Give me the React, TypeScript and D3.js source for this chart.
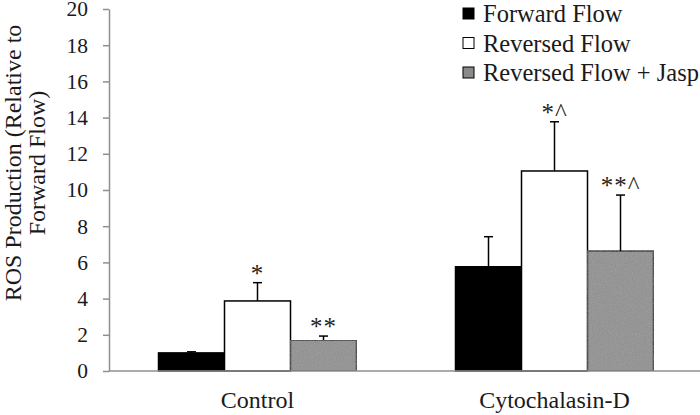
import * as d3 from 'd3';
import { useEffect, useRef } from 'react';

// data
const categories = ['Control', 'Cytochalasin-D'];
const seriesNames = ['Forward Flow', 'Reversed Flow', 'Reversed Flow + Jasp'];
const forwardFlow = [1.0, 5.76];
const forwardErr = [0.06, 1.66];
const reversedFlow = [3.87, 11.05];
const reversedErr = [1.01, 2.72];
const jaspFlow = [1.71, 6.63];
const jaspErr = [0.22, 3.09];
const forwardMarks = ['', ''];
const reversedMarks = ['*', '*^'];
const jaspMarks = ['**', '**^'];
const yTicks = [0, 2, 4, 6, 8, 10, 12, 14, 16, 18, 20];

const W = 700;
const H = 415;
const FONT = '"Liberation Serif", "Times New Roman", serif';
const TEXT = '#1a1a1a';
const AXIS = '#8f8f8f';
const fills = ['#000000', '#ffffff', '#8a8a8a'];

export default function App() {
  const svgRef = useRef<SVGSVGElement>(null);

  useEffect(() => {
    if (!svgRef.current) return;
    const svg = d3.select(svgRef.current);
    svg.selectAll('*').remove();

    const left = 109;
    const right = 703;
    const top = 9;
    const bottom = 371;

    const y = d3.scaleLinear().domain([0, 20]).range([bottom, top]);
    const x0 = d3.scaleBand<string>().domain(categories).range([left, right])
      .paddingInner(1 / 3).paddingOuter(1 / 6);
    const x1 = d3.scaleBand<string>().domain(seriesNames).range([0, x0.bandwidth()]);

    const values = [forwardFlow, reversedFlow, jaspFlow];
    const errs = [forwardErr, reversedErr, jaspErr];
    const marks = [forwardMarks, reversedMarks, jaspMarks];

    type Bar = { cat: string; ci: number; si: number; v: number; e: number; m: string };
    const bars: Bar[] = [];
    categories.forEach((cat, ci) => {
      seriesNames.forEach((_, si) => {
        bars.push({ cat, ci, si, v: values[si][ci], e: errs[si][ci], m: marks[si][ci] });
      });
    });

    // subtle grain for the grey bars
    const defs = svg.append('defs');
    const filt = defs.append('filter').attr('id', 'grain').attr('x', 0).attr('y', 0).attr('width', 1).attr('height', 1);
    filt.append('feTurbulence').attr('type', 'fractalNoise').attr('baseFrequency', 0.9).attr('numOctaves', 2).attr('result', 'n');
    filt.append('feColorMatrix').attr('in', 'n').attr('type', 'matrix')
      .attr('values', '0 0 0 0 0.54  0 0 0 0 0.54  0 0 0 0 0.54  0 0 0 0.35 0').attr('result', 'c');
    filt.append('feComposite').attr('in', 'c').attr('in2', 'SourceGraphic').attr('operator', 'in').attr('result', 'g');
    const mg = filt.append('feMerge');
    mg.append('feMergeNode').attr('in', 'SourceGraphic');
    mg.append('feMergeNode').attr('in', 'g');

    // y axis
    const yAxis = svg.append('g').attr('transform', `translate(${left},0)`)
      .call(d3.axisLeft(y).tickValues(yTicks).tickSize(6).tickPadding(15).tickSizeOuter(0));
    yAxis.select('.domain').attr('stroke', AXIS).attr('stroke-width', 1.5);
    yAxis.selectAll('.tick line').attr('stroke', AXIS).attr('stroke-width', 1.5);
    yAxis.selectAll('.tick text').attr('fill', TEXT).style('font-family', FONT).style('font-size', '21.5px');

    // bars
    const g = svg.append('g');
    g.selectAll('rect.bar').data(bars).join('rect')
      .attr('class', 'bar')
      .attr('x', d => x0(d.cat)! + x1(seriesNames[d.si])!)
      .attr('y', d => y(d.v))
      .attr('width', x1.bandwidth())
      .attr('height', d => y(0) - y(d.v))
      .attr('fill', d => fills[d.si])
      .attr('filter', d => (d.si === 2 ? 'url(#grain)' : null))
      .attr('stroke', '#000')
      .attr('stroke-width', 1.5);

    // error bars (upper only)
    const cx = (d: Bar) => x0(d.cat)! + x1(seriesNames[d.si])! + x1.bandwidth() / 2;
    g.selectAll('line.err').data(bars).join('line')
      .attr('class', 'err')
      .attr('x1', cx).attr('x2', cx)
      .attr('y1', d => y(d.v)).attr('y2', d => y(d.v + d.e))
      .attr('stroke', '#000').attr('stroke-width', 1.5);
    g.selectAll('line.cap').data(bars).join('line')
      .attr('class', 'cap')
      .attr('x1', d => cx(d) - 4.5).attr('x2', d => cx(d) + 4.5)
      .attr('y1', d => y(d.v + d.e)).attr('y2', d => y(d.v + d.e))
      .attr('stroke', '#000').attr('stroke-width', 1.5);

    // significance marks
    g.selectAll('text.mark').data(bars.filter(d => d.m)).join('text')
      .attr('class', 'mark')
      .attr('x', cx)
      .attr('y', d => y(d.v + d.e) - 1)
      .attr('text-anchor', 'middle')
      .attr('fill', '#222')
      .style('font-family', FONT)
      .style('font-size', '25px')
      .style('letter-spacing', '1px')
      .text(d => d.m);

    // x axis baseline
    svg.append('line')
      .attr('x1', left).attr('x2', W)
      .attr('y1', bottom).attr('y2', bottom)
      .attr('stroke', AXIS).attr('stroke-width', 1.5);

    svg.selectAll('text.cat').data(categories).join('text')
      .attr('class', 'cat')
      .attr('x', d => x0(d)! + x0.bandwidth() / 2)
      .attr('y', 408)
      .attr('text-anchor', 'middle')
      .attr('fill', TEXT)
      .style('font-family', FONT)
      .style('font-size', '24px')
      .text(d => d);

    // y title
    const yt = svg.append('text')
      .attr('transform', 'translate(21,163) rotate(-90)')
      .attr('text-anchor', 'middle')
      .attr('fill', TEXT)
      .style('font-family', FONT)
      .style('font-size', '24px');
    yt.append('tspan').attr('x', 0).attr('dy', 0).text('ROS Production (Relative to');
    yt.append('tspan').attr('x', 0).attr('dy', 24).text('Forward Flow)');

    // legend
    const leg = svg.append('g').attr('transform', 'translate(463,8)');
    const rows = leg.selectAll('g').data(seriesNames).join('g')
      .attr('transform', (_, i) => `translate(0,${i * 29.5})`);
    rows.append('rect')
      .attr('width', 11).attr('height', 11)
      .attr('fill', (_, i) => fills[i])
      .attr('stroke', '#000').attr('stroke-width', 1);
    rows.append('text')
      .attr('x', 20).attr('y', 14)
      .attr('fill', TEXT)
      .style('font-family', FONT)
      .style('font-size', '24.5px')
      .text(d => d);
  }, []);

  return (
    <svg
      ref={svgRef}
      width={W}
      height={H}
      style={{ position: 'absolute', left: 0, top: 0, background: '#fff' }}
    />
  );
}
